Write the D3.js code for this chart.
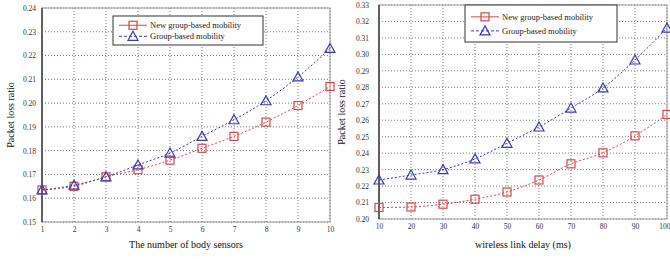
<!DOCTYPE html>
<html><head><meta charset="utf-8">
<script src="https://cdn.jsdelivr.net/npm/d3@7"></script>
<style>body{margin:0;background:#fff}svg{display:block}text{font-family:"Liberation Serif","DejaVu Serif",serif;}</style>
</head><body>
<script>
// Left chart data
const sensors = [1,2,3,4,5,6,7,8,9,10];
const leftNew = [0.1635,0.165,0.169,0.172,0.176,0.181,0.186,0.192,0.199,0.207];
const leftGroup = [0.1635,0.1655,0.169,0.174,0.179,0.186,0.193,0.201,0.211,0.223];
const leftYTicks = [0.15,0.16,0.17,0.18,0.19,0.20,0.21,0.22,0.23,0.24];
// Right chart data
const delays = [10,20,30,40,50,60,70,80,90,100];
const rightNew = [0.207,0.2073,0.209,0.212,0.2164,0.2237,0.2335,0.2402,0.2505,0.2635];
const rightGroup = [0.2237,0.2267,0.230,0.2365,0.246,0.2559,0.2674,0.2796,0.2966,0.316];
const rightYTicks = [0.20,0.21,0.22,0.23,0.24,0.25,0.26,0.27,0.28,0.29,0.30,0.31,0.32,0.33];
const seriesNames = ["New group-based mobility","Group-based mobility"];
const colors = ["#d9474a","#3a3ab8"];

const svg = d3.select("body").append("svg").attr("width",670).attr("height",259);

function panel(opt){
  const x = d3.scaleLinear().domain(opt.xDomain).range([opt.x0,opt.x1]);
  const y = d3.scaleLinear().domain(opt.yDomain).range([opt.y1,opt.y0]);
  const g = svg.append("g");
  // grid
  g.selectAll(".vg").data(opt.xTicks).join("line")
    .attr("x1",d=>x(d)).attr("x2",d=>x(d)).attr("y1",opt.y0).attr("y2",opt.y1)
    .attr("stroke","#777").attr("stroke-width",1).attr("stroke-dasharray","1,2");
  g.selectAll(".hg").data(opt.yTicks).join("line")
    .attr("x1",opt.x0).attr("x2",opt.x1).attr("y1",d=>y(d)).attr("y2",d=>y(d))
    .attr("stroke","#777").attr("stroke-width",1).attr("stroke-dasharray","1,2");
  // frame
  g.append("rect").attr("x",opt.x0).attr("y",opt.y0).attr("width",opt.x1-opt.x0).attr("height",opt.y1-opt.y0)
    .attr("fill","none").attr("stroke","#999").attr("stroke-width",1);
  g.append("line").attr("x1",opt.x0).attr("x2",opt.x0).attr("y1",opt.y0).attr("y2",opt.y1).attr("stroke","#555").attr("stroke-width",1.8);
  // axes tick labels
  const ax = d3.axisBottom(x).tickValues(opt.xTicks).tickSize(0).tickPadding(5).tickFormat(d3.format("d"));
  const axg = g.append("g").attr("transform",`translate(0,${opt.y1})`).call(ax);
  axg.select(".domain").remove();
  axg.selectAll("text").attr("font-size",7.5).attr("fill","#333").attr("font-family","Liberation Serif");
  if(opt.lastEnd) axg.selectAll(".tick:last-of-type text").attr("text-anchor","end").attr("dx",3);
  const ay = d3.axisLeft(y).tickValues(opt.yTicks).tickSize(0).tickPadding(opt.yPad).tickFormat(d3.format(".2f"));
  const ayg = g.append("g").attr("transform",`translate(${opt.x0},0)`).call(ay);
  ayg.select(".domain").remove();
  ayg.selectAll("text").attr("font-size",7.5).attr("fill","#333").attr("font-family","Liberation Serif");
  // labels
  g.append("text").attr("x",(opt.x0+opt.x1)/2).attr("y",248).attr("text-anchor","middle").attr("font-size",10).attr("fill","#111").text(opt.xLabel);
  g.append("text").attr("transform",`translate(${opt.yLabelX},${(opt.y0+opt.y1)/2}) rotate(-90)`).attr("text-anchor","middle").attr("font-size",10).attr("fill","#111").text("Packet loss ratio");
  // series
  const line = d3.line().x(d=>x(d[0])).y(d=>y(d[1])).curve(d3.curveMonotoneX);
  opt.series.forEach((vals,i)=>{
    const pts = opt.xs.map((v,j)=>[v,vals[j]]);
    g.append("path").datum(pts).attr("d",line).attr("fill","none").attr("stroke",colors[i]).attr("stroke-width",1).attr("stroke-dasharray","2,2");
    drawMarkers(g, pts.map(p=>[x(p[0]),y(p[1])]), i);
  });
  // legend
  const L = opt.legend;
  g.append("rect").attr("x",L.x).attr("y",L.y).attr("width",L.w).attr("height",L.h).attr("fill","#fff").attr("stroke","#333").attr("stroke-width",1);
  seriesNames.forEach((n,i)=>{
    const ly = L.y + L.h*(i===0?0.32:0.7);
    g.append("line").attr("x1",L.x+6).attr("x2",L.x+34).attr("y1",ly).attr("y2",ly).attr("stroke",colors[i]).attr("stroke-width",1).attr("stroke-dasharray", i===0? null : "3,2");
    drawMarkers(g, [[L.x+20,ly]], i);
    g.append("text").attr("x",L.x+37).attr("y",ly+3).attr("font-size",8.5).attr("fill","#222").text(n);
  });
}
function drawMarkers(g, pts, i){
  if(i===0){
    g.selectAll(null).data(pts).join("rect")
      .attr("x",d=>d[0]-4).attr("y",d=>d[1]-4).attr("width",8).attr("height",8)
      .attr("fill","none").attr("stroke",colors[0]).attr("stroke-width",1.2);
  } else {
    g.selectAll(null).data(pts).join("path")
      .attr("d",d=>`M${d[0]},${d[1]-5}L${d[0]+5},${d[1]+4}L${d[0]-5},${d[1]+4}Z`)
      .attr("fill","none").attr("stroke",colors[1]).attr("stroke-width",1.2);
  }
}

panel({x0:42,x1:330,y0:8,y1:222,xDomain:[1,10],yDomain:[0.15,0.24],xTicks:sensors,yTicks:leftYTicks,
  xs:sensors,series:[leftNew,leftGroup],xLabel:"The number of body sensors",yLabelX:14,yPad:6,
  legend:{x:113,y:16,w:150,h:29}});
panel({x0:379,x1:667,y0:5,y1:219,xDomain:[10,100],yDomain:[0.20,0.33],xTicks:delays,yTicks:rightYTicks,
  xs:delays,series:[rightNew,rightGroup],xLabel:"wireless link delay (ms)",yLabelX:345,yPad:10,
  legend:{x:465,y:5,w:152,h:37},lastEnd:true});
</script>
</body></html>
